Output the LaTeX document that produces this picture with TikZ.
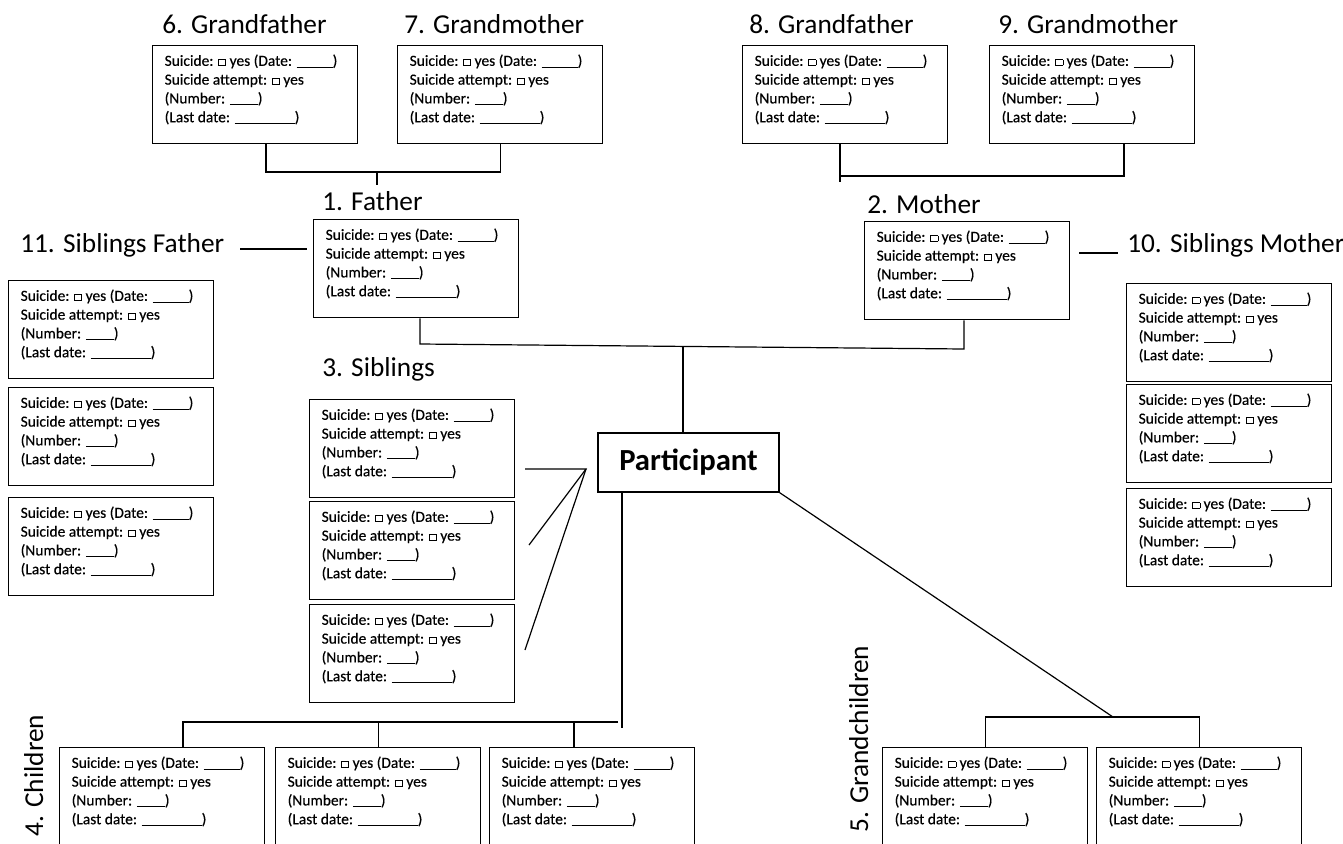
\documentclass[tikz,border=0pt]{standalone}
\usepackage{fontspec}
\setmainfont{Carlito}
\newfontfamily\formfont{Carlito}[FakeBold=0.4]
\usetikzlibrary{calc}

\newcommand\ynbox{\raisebox{0.6pt}{\fboxsep=0pt\fboxrule=0.5pt\fbox{\rule{0pt}{3.8pt}\hspace{5pt}}}}
\newcommand\blank[1]{\rule[-1.3pt]{#1}{0.6pt}}
\newcommand\formtext{\parbox[c][63pt][t]{135.75pt}{\formfont\fontsize{11.6}{14.1}\selectfont
  \strut Suicide: \ynbox{} yes (Date: \blank{27pt})\\
  Suicide attempt: \ynbox{} yes\\
  (Number: \blank{21pt})\\
  (Last date: \blank{45pt})}}

\tikzset{
  form/.style={draw, line width=1pt, minimum width=153.75pt, minimum height=73.5pt,
    inner sep=0pt, anchor=north west},
  title/.style={anchor=base west, inner sep=0pt, font=\fontsize{20.5}{24}\selectfont},
  link/.style={line width=0.9pt},
}

\begin{document}
\begin{tikzpicture}[x=0.75pt, y=-0.75pt]
			\useasboundingbox (0,0) rectangle (1343,843);
			\clip (0,0) rectangle (1343,843);
			
			%%%%% grandparents %%%%%
			\node[title] (gf6l) at (162,33) {6. Grandfather};
			\node[title] (gm7l) at (404,33) {7. Grandmother};
			\node[title] (gf8l) at (749,33) {8. Grandfather};
			\node[title] (gm9l) at (998,33) {9. Grandmother};
			
			\node[form] (gf6) at (152,45) {\formtext};
			\node[form] (gm7) at (397,45) {\formtext};
			\node[form] (gf8) at (742,45) {\formtext};
			\node[form] (gm9) at (989,45) {\formtext};
			
			%%%%% parents %%%%%
			\node[title] (fatherl) at (322,210) {1. Father};
			\node[title] (motherl) at (867,213) {2. Mother};
			\node[form] (father) at (313,219) {\formtext};
			\node[form] (mother) at (864,221) {\formtext};
			
			%%%%% siblings of the parents %%%%%
			\node[title] (sfl) at (20,252) {11. Siblings Father};
			\node[title] (sml) at (1127,252) {10. Siblings Mother};
			
			\node[form] (sf1) at (8,280) {\formtext};
			\node[form] (sf2) at (8,387) {\formtext};
			\node[form] (sf3) at (8,497) {\formtext};
			
			\node[form] (sm1) at (1126,283) {\formtext};
			\node[form] (sm2) at (1126,384) {\formtext};
			\node[form] (sm3) at (1126,488) {\formtext};
			
			%%%%% participant and siblings %%%%%
			\node[draw, line width=1pt, minimum width=135.75pt, minimum height=44.25pt,
				font=\bfseries\fontsize{23}{27}\selectfont] (part) at (688.5,462.5) {Participant};
			
			\node[title] (sibl) at (322,376) {3. Siblings};
			\node[form] (sib1) at (309,399) {\formtext};
			\node[form] (sib2) at (309,501) {\formtext};
			\node[form] (sib3) at (309,604) {\formtext};
			
			%%%%% children and grandchildren %%%%%
			\node[title, rotate=90] (chl) at (43,837) {4. Children};
			\node[form] (ch1) at (59,747) {\formtext};
			\node[form] (ch2) at (275,747) {\formtext};
			\node[form] (ch3) at (489,747) {\formtext};
			
			\node[title, rotate=90] (gcl) at (868,833) {5. Grandchildren};
			\node[form] (gc1) at (882,747) {\formtext};
			\node[form] (gc2) at (1096,747) {\formtext};
			
			%%%%% connectors %%%%%
			\coordinate (gpf) at (266,172);
			\coordinate (gpfstub) at (377,185);
			\draw[link] (gf6.south -| gpf) -- (gpf) -- (gpf -| gm7.south) -- (gm7.south);
			\draw[link] (gpfstub |- gpf) -- (gpfstub);
			
			\coordinate (gpm) at (840,176);
			\coordinate (gpmstub) at (840,182);
			\coordinate (gpmr) at (1124,176);
			\draw[link] (gf8.south -| gpm) -- (gpmstub);
			\draw[link] (gpm) -- (gpmr) -- (gm9.south -| gpmr);
			
			\coordinate (pf) at (420,344);
			\coordinate (pm) at (964,349);
			\coordinate (pp) at ($(pf)!0.4835!(pm)$);
			\draw[link] (father.south -| pf) -- (pf) -- (pm) -- (mother.south -| pm);
			\draw[link] (pp) -- (part.north -| pp);
			
			\coordinate (sfa) at (240,249);
			\coordinate (sfb) at (307,249);
			\draw[link] (sfa) -- (sfb);
			\coordinate (sma) at (1079,253);
			\coordinate (smb) at (1118,253);
			\draw[link] (sma) -- (smb);
			
			\coordinate (sibhub) at (586,469);
			\coordinate (s1) at (525,469);
			\coordinate (s2) at (529,545);
			\coordinate (s3) at (525,650);
			\draw[link] (s1) -- (sibhub) -- (s2);
			\draw[link] (sibhub) -- (s3);
			
			\coordinate (chv) at (622,728);
			\coordinate (chL) at (183,722);
			\coordinate (chR) at (618,722);
			\coordinate (ch3j) at (574,722);
			\draw[link] (part.south -| chv) -- (chv);
			\draw[link] (chR) -- (chL) -- (ch1.north -| chL);
			\draw[link] (ch2.north |- chL) -- (ch2.north);
			\draw[link] (ch3j) -- (ch3.north -| ch3j);
			
			\coordinate (gcj) at (1113,717);
			\draw[link] (part.south east) -- (gcj);
			\draw[link] (gc1.north) -- (gc1.north |- gcj) -- (gc2.north |- gcj) -- (gc2.north);
			
			%%%%% END %%%%%
\end{tikzpicture}
\end{document}
